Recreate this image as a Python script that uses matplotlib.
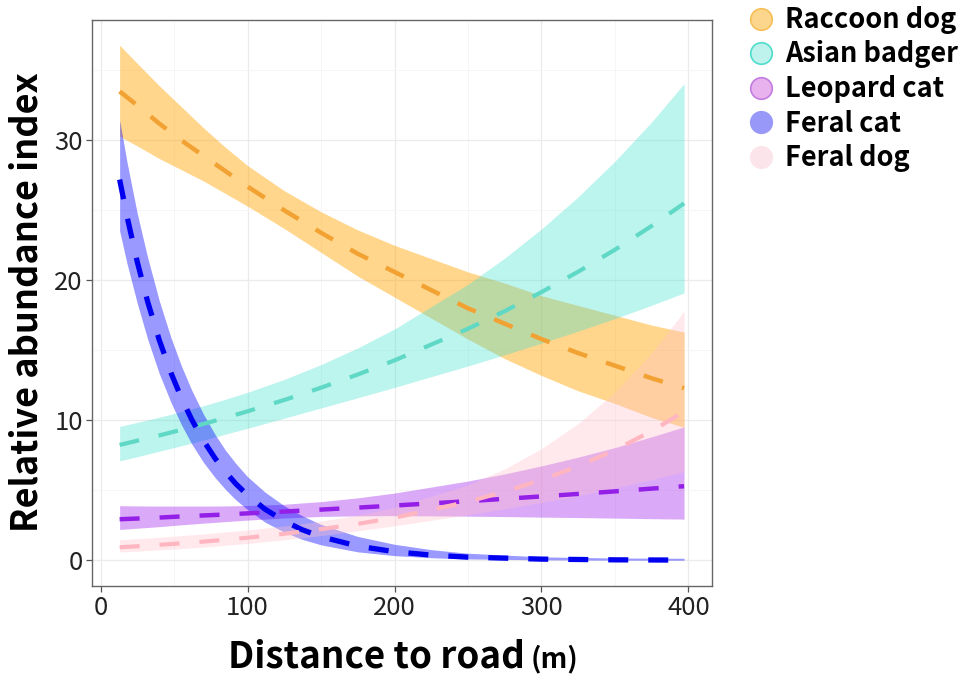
import matplotlib
matplotlib.use('Agg')
import matplotlib.pyplot as plt
from matplotlib.lines import Line2D

plt.rcParams['font.family'] = ['Noto Sans CJK KR', 'DejaVu Sans']

# distance to road (m) at which the fitted curves were evaluated
distance = [13, 25, 40, 55, 70, 85, 100, 125, 150, 175, 200, 250, 275, 300, 325, 350, 375, 397]
# the feral cat curve drops fast near the road, so it is read on a finer grid
distance_cat = [13, 18, 25, 32, 40, 48, 55, 62, 70, 78, 85, 92, 100, 112, 125, 137,
                150, 175, 200, 225, 250, 300, 350, 397]

# fitted relative abundance index and 95% band for each species
raccoon_fit = [33.5, 32.5, 31.2, 30.0, 28.9, 27.8, 26.7, 25.0, 23.4, 21.9, 20.6, 18.0,
               16.9, 15.8, 14.8, 13.9, 13.0, 12.3]
raccoon_hi = [36.8, 35.5, 33.9, 32.4, 30.9, 29.5, 28.2, 26.4, 24.9, 23.6, 22.5, 20.6,
              19.8, 18.9, 18.2, 17.5, 16.8, 16.3]
raccoon_lo = [30.3, 29.6, 28.7, 27.9, 27.1, 26.2, 25.3, 23.7, 22.0, 20.3, 18.8, 15.8,
              14.4, 13.2, 12.1, 11.2, 10.2, 9.5]

badger_fit = [8.24, 8.54, 8.92, 9.32, 9.74, 10.18, 10.64, 11.45, 12.33, 13.27, 14.28, 16.54,
              17.80, 19.16, 20.62, 22.19, 23.89, 25.5]
badger_hi = [9.56, 9.85, 10.22, 10.61, 11.04, 11.50, 12.00, 12.92, 13.98, 15.17, 16.52, 19.72,
             21.59, 23.67, 25.97, 28.51, 31.32, 34.05]
badger_lo = [7.10, 7.40, 7.79, 8.18, 8.59, 9.01, 9.43, 10.15, 10.88, 11.61, 12.35, 13.88,
             14.68, 15.51, 16.37, 17.27, 18.22, 19.10]

leopard_fit = [2.93, 2.98, 3.05, 3.13, 3.20, 3.27, 3.35, 3.48, 3.62, 3.76, 3.91, 4.22,
               4.39, 4.56, 4.74, 4.92, 5.12, 5.29]
leopard_hi = [3.90, 3.88, 3.87, 3.87, 3.87, 3.88, 3.91, 4.00, 4.19, 4.46, 4.80, 5.66,
              6.17, 6.74, 7.37, 8.05, 8.82, 9.53]
leopard_lo = [2.20, 2.29, 2.40, 2.53, 2.65, 2.76, 2.87, 3.02, 3.13, 3.17, 3.19, 3.15,
              3.12, 3.08, 3.05, 3.01, 2.97, 2.94]

feralcat_fit = [27.2, 24.58, 21.32, 18.50, 15.72, 13.37, 11.60, 10.06, 8.55, 7.27, 6.31, 5.47,
                4.65, 3.64, 2.80, 2.19, 1.68, 1.01, 0.611, 0.368, 0.221, 0.080, 0.029, 0.011]
feralcat_hi = [31.44, 28.46, 24.77, 21.65, 18.53, 15.88, 13.89, 12.16, 10.44, 8.97, 7.86, 6.92,
               5.97, 4.86, 3.89, 3.19, 2.56, 1.70, 1.14, 0.756, 0.50, 0.24, 0.16, 0.14]
feralcat_lo = [23.53, 21.21, 18.36, 15.82, 13.33, 11.26, 9.69, 8.32, 7.00, 5.90, 5.06, 4.32,
               3.62, 2.72, 2.01, 1.50, 1.10, 0.60, 0.33, 0.179, 0.097, 0.029, 0.0087, 0.0027]

feraldog_fit = [0.93, 1.00, 1.10, 1.21, 1.33, 1.47, 1.61, 1.89, 2.22, 2.60, 3.04, 4.18,
                4.90, 5.74, 6.72, 7.88, 9.23, 10.61]
feraldog_hi = [1.47, 1.54, 1.64, 1.76, 1.88, 2.02, 2.16, 2.45, 2.80, 3.22, 3.76, 5.38,
               6.53, 7.97, 9.77, 12.02, 14.80, 17.79]
feraldog_lo = [0.59, 0.65, 0.74, 0.83, 0.94, 1.07, 1.20, 1.46, 1.76, 2.10, 2.46, 3.25,
               3.68, 4.14, 4.62, 5.17, 5.76, 6.33]

species = ['Raccoon dog', 'Asian badger', 'Leopard cat', 'Feral cat', 'Feral dog']
xs = [distance, distance, distance, distance_cat, distance]
fits = [raccoon_fit, badger_fit, leopard_fit, feralcat_fit, feraldog_fit]
highs = [raccoon_hi, badger_hi, leopard_hi, feralcat_hi, feraldog_hi]
lows = [raccoon_lo, badger_lo, leopard_lo, feralcat_lo, feraldog_lo]

ribbon_colors = ['#FFA500', '#40E0D0', '#A020F0', '#0000FF', '#FFC0CB']
ribbon_alpha = [0.45, 0.35, 0.38, 0.4, 0.35]
line_colors = ['#F2A232', '#5FD8C5', '#9420E8', '#0000F0', '#FFB6C1']
line_widths = [3.2, 3.0, 3.2, 3.8, 3.0]

# legend keys
key_fill = ['#FDD68E', '#BDF3EC', '#E8B2EE', '#9898F8', '#FCE5EA']
key_edge = ['#F6BE55', '#4FDCCB', '#C27BE0', '#9898F8', '#FCE5EA']

fig = plt.figure(figsize=(9.68, 6.81), dpi=100)
ax = fig.add_axes([92 / 968, 95 / 681, 620 / 968, 566 / 681])

for i in range(len(species)):
    ax.fill_between(xs[i], lows[i], highs[i], color=ribbon_colors[i],
                    alpha=ribbon_alpha[i], lw=0)
    dash = 20 / 1.389 / line_widths[i]  # ~20 px dashes and gaps
    ax.plot(xs[i], fits[i], color=line_colors[i], lw=line_widths[i],
            linestyle=(0, (dash, dash)), dash_capstyle='butt')

ax.set_xlim(-5.8, 416)
ax.set_ylim(-1.84, 38.6)
ax.set_xticks([0, 100, 200, 300, 400])
ax.set_yticks([0, 10, 20, 30])
ax.set_xticks([50, 150, 250, 350], minor=True)
ax.set_yticks([5, 15, 25, 35], minor=True)
ax.grid(which='major', color='#EBEBEB', lw=0.9)
ax.grid(which='minor', color='#F5F5F5', lw=0.6)
ax.set_axisbelow(True)
ax.tick_params(which='major', length=4.5, width=0.9, color='#555555',
               labelsize=18.5, labelcolor='#222222', pad=2)
ax.tick_params(which='minor', length=0)
for s in ax.spines.values():
    s.set_color('#666666')
    s.set_linewidth(1.0)

fig.text(27 / 968, 1 - 302 / 681, 'Relative abundance index', rotation=90,
         ha='center', va='center', fontsize=26, fontweight='bold')
xl = fig.text(228 / 968, 1 - 667 / 681, 'Distance to road', ha='left', va='baseline',
              fontsize=26.5, fontweight='bold')
# the unit sits right after the label, in a smaller size
fig.canvas.draw()
bb = xl.get_window_extent()
fig.text((bb.x1 + 6) / 968, 1 - 667 / 681, '(m)', ha='left', va='baseline',
         fontsize=20, fontweight='bold')

handles = [Line2D([], [], ls='none', marker='o', ms=15.5, mfc=key_fill[i],
                  mec=key_edge[i], mew=1.2) for i in range(len(species))]
fig.legend(handles, species, loc='upper left', bbox_to_anchor=(746 / 968, 1 - 6 / 681),
           frameon=False, prop={'size': 19.5, 'weight': 'bold'}, handletextpad=0.35,
           labelspacing=0.24, borderaxespad=0, borderpad=0, handlelength=1.1)

fig.savefig('out.png', dpi=100)
